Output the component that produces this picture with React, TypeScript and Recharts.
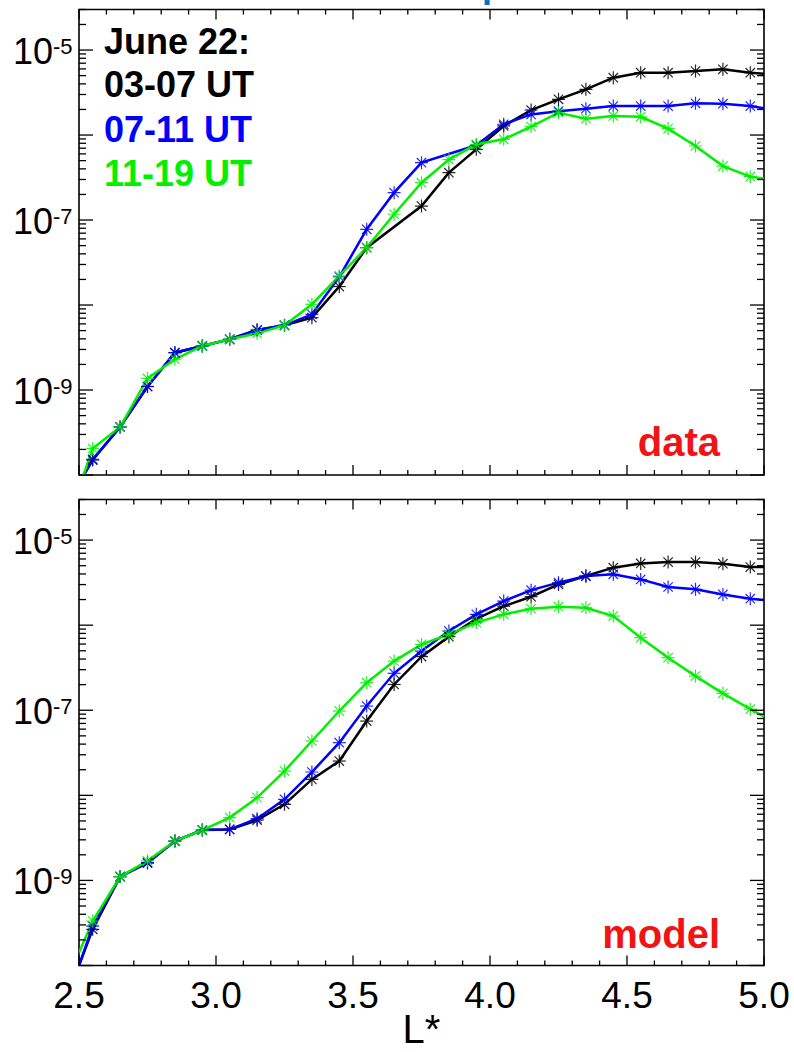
import React from "react";
import { LineChart, Line, XAxis, YAxis, ReferenceArea } from "recharts";

// L* bin centres (plus the two plot edges, where the lines run into the frame)
const L_STAR = [2.5, 2.55, 2.65, 2.75, 2.85, 2.95, 3.05, 3.15, 3.25, 3.35, 3.45, 3.55, 3.65, 3.75, 3.85, 3.95, 4.05, 4.15, 4.25, 4.35, 4.45, 4.55, 4.65, 4.75, 4.85, 4.95, 5.0];

// top panel: data
const dataUT0307 = [8e-11, 1.5e-10, 3.67e-10, 1.1e-9, 2.75e-9, 3.3e-9, 3.95e-9, 5.08e-9, 5.77e-9, 7.1e-9, 1.65e-8, 4.73e-8, null, 1.46e-7, 3.61e-7, 6.79e-7, 1.28e-6, 1.97e-6, 2.63e-6, 3.45e-6, 4.73e-6, 5.42e-6, 5.42e-6, 5.67e-6, 5.93e-6, 5.42e-6, 5.27e-6];
const dataUT0711 = [8e-11, 1.53e-10, 3.67e-10, 1.1e-9, 2.75e-9, 3.3e-9, 3.95e-9, 5.08e-9, 5.77e-9, 7.78e-9, 2.15e-8, 7.78e-8, 2.1e-7, 4.73e-7, null, 7.57e-7, 1.34e-6, 1.75e-6, 1.91e-6, 2.04e-6, 2.19e-6, 2.19e-6, 2.19e-6, 2.36e-6, 2.34e-6, 2.19e-6, 2.06e-6];
const dataUT1119 = [7e-11, 2.05e-10, 3.67e-10, 1.37e-9, 2.3e-9, 3.3e-9, 3.95e-9, 4.64e-9, 5.77e-9, 1.02e-8, 2.2e-8, 4.73e-8, 1.17e-7, 2.75e-7, 5.14e-7, 7.78e-7, 8.9e-7, 1.26e-6, 1.83e-6, 1.56e-6, 1.68e-6, 1.64e-6, 1.19e-6, 7.43e-7, 4.31e-7, 3.24e-7, 3.07e-7];

// bottom panel: model
const modelUT0307 = [1.0e-10, 2.66e-10, 1.11e-9, 1.6e-9, 2.9e-9, 3.91e-9, 3.98e-9, 5.1e-9, 7.84e-9, 1.54e-8, 2.53e-8, 7.46e-8, 2.01e-7, 4.27e-7, 7.33e-7, 1.19e-6, 1.67e-6, 2.16e-6, 3.01e-6, 3.78e-6, 4.74e-6, 5.32e-6, 5.51e-6, 5.51e-6, 5.28e-6, 4.82e-6, 4.82e-6];
const modelUT0711 = [1.0e-10, 2.91e-10, 1.11e-9, 1.62e-9, 2.9e-9, 3.91e-9, 3.98e-9, 5.32e-9, 8.97e-9, 1.88e-8, 4.16e-8, 1.12e-7, 2.72e-7, 4.96e-7, 8.53e-7, 1.34e-6, 1.92e-6, 2.58e-6, 3.16e-6, 3.78e-6, 3.96e-6, 3.45e-6, 2.81e-6, 2.64e-6, 2.3e-6, 2.05e-6, 1.97e-6];
const modelUT1119 = [1.42e-10, 3.33e-10, 1.11e-9, 1.7e-9, 2.9e-9, 3.91e-9, 5.47e-9, 9.4e-9, 1.93e-8, 4.35e-8, 9.8e-8, 2.11e-7, 3.78e-7, 5.94e-7, 7.8e-7, 1.07e-6, 1.34e-6, 1.56e-6, 1.65e-6, 1.6e-6, 1.28e-6, 7.13e-7, 4.15e-7, 2.52e-7, 1.58e-7, 1.03e-7, 8.4e-8];

const SERIES = [
  { key: "ut0307", label: "03-07 UT", color: "#000000" },
  { key: "ut0711", label: "07-11 UT", color: "#0000ff" },
  { key: "ut1119", label: "11-19 UT", color: "#00f000" },
];

const X_TICKS = [2.5, 2.6, 2.7, 2.8, 2.9, 3.0, 3.1, 3.2, 3.3, 3.4, 3.5, 3.6, 3.7, 3.8, 3.9, 4.0, 4.1, 4.2, 4.3, 4.4, 4.5, 4.6, 4.7, 4.8, 4.9, 5.0];
const Y_LABELLED = [-9, -7, -5];
const Y_MIN = 1e-10;
const Y_MAX = 3e-5;

const Y_TICKS: number[] = [];
for (let e = -10; e <= -5; e++) {
  for (let k = 1; k <= 9; k++) {
    const v = k * Math.pow(10, e);
    if (v <= Y_MAX * 1.0001) Y_TICKS.push(v);
  }
}

const FONT = "'Liberation Sans', Arial, Helvetica, sans-serif";
const PL = 79;
const PR = 764;

const buildRows = (a: any[], b: any[], c: any[]) =>
  L_STAR.map((L, i) => ({ L, ut0307: a[i], ut0711: b[i], ut1119: c[i] }));

const topRows = buildRows(dataUT0307, dataUT0711, dataUT1119);
const bottomRows = buildRows(modelUT0307, modelUT0711, modelUT1119);

// asterisk marker, skipped at the two edge points
const makeStar = (color: string, dataKey: string) => (props: any) => {
  const { cx, cy, index, payload } = props;
  const last = L_STAR.length - 1;
  if (index === 0 || index === last || cx == null || cy == null || payload?.[dataKey] == null) {
    return <g key={`n-${dataKey}-${index}`} />;
  }
  const r = 6.5;
  const d = r * 0.72;
  return (
    <g key={`s-${dataKey}-${index}`} stroke={color} strokeWidth={1.2} strokeOpacity={0.85}>
      <line x1={cx} y1={cy - r} x2={cx} y2={cy + r} />
      <line x1={cx - d} y1={cy - d} x2={cx + d} y2={cy + d} />
      <line x1={cx - d} y1={cy + d} x2={cx + d} y2={cy - d} />
      <line x1={cx - r} y1={cy} x2={cx + r} y2={cy} />
    </g>
  );
};

const makeYTick = () => (props: any) => {
  const { y, payload } = props;
  const e = Math.log10(payload.value);
  const exp = Math.round(e);
  const major = Math.abs(e - exp) < 1e-6;
  const len = major ? 14 : 7;
  return (
    <g>
      <line x1={PL} x2={PL + len} y1={y} y2={y} stroke="#000" strokeWidth={1.3} />
      <line x1={PR - len} x2={PR} y1={y} y2={y} stroke="#000" strokeWidth={1.3} />
      {major && Y_LABELLED.includes(exp) && (
        <text x={13} y={y + 13.5} fontFamily={FONT} fill="#000">
          <tspan fontSize={36}>10</tspan>
          <tspan fontSize={22} dy={-10}>{String(exp)}</tspan>
        </text>
      )}
    </g>
  );
};

const makeXTick = (plotTop: number, plotBottom: number, showLabels: boolean) => (props: any) => {
  const { x, payload } = props;
  const v = payload.value;
  const major = Math.abs(v * 2 - Math.round(v * 2)) < 1e-6;
  const len = major ? 10 : 5;
  return (
    <g>
      <line x1={x} x2={x} y1={plotBottom} y2={plotBottom - len} stroke="#000" strokeWidth={1.3} />
      <line x1={x} x2={x} y1={plotTop} y2={plotTop + len} stroke="#000" strokeWidth={1.3} />
      {showLabels && major && (
        <text x={x} y={plotBottom + 42.5} textAnchor="middle" fontFamily={FONT} fontSize={37} fill="#000">
          {v.toFixed(1)}
        </text>
      )}
    </g>
  );
};

interface PanelProps {
  rows: any[];
  top: number;
  height: number;
  marginTop: number;
  xAxisHeight: number;
  showLabels: boolean;
}

function Panel({ rows, top, height, marginTop, xAxisHeight, showLabels }: PanelProps) {
  const plotTop = marginTop;
  const plotBottom = height - xAxisHeight;
  return (
    <div style={{ position: "absolute", left: 0, top }}>
      <LineChart
        width={794}
        height={height}
        data={rows}
        margin={{ top: marginTop, right: 794 - PR, bottom: 0, left: 0 }}
      >
        <XAxis
          type="number"
          dataKey="L"
          domain={[2.5, 5.0]}
          ticks={X_TICKS}
          interval={0}
          allowDataOverflow
          height={xAxisHeight}
          axisLine={false}
          tickLine={false}
          tick={makeXTick(plotTop, plotBottom, showLabels)}
        />
        <YAxis
          type="number"
          scale="log"
          domain={[Y_MIN, Y_MAX]}
          ticks={Y_TICKS}
          interval={0}
          allowDataOverflow
          width={PL}
          axisLine={false}
          tickLine={false}
          tick={makeYTick()}
        />
        <ReferenceArea x1={2.5} x2={5.0} y1={Y_MIN} y2={Y_MAX} fill="none" stroke="#000" strokeWidth={1.6} />
        {SERIES.map((s) => (
          <Line
            key={s.key}
            type="linear"
            dataKey={s.key}
            stroke={s.color}
            strokeWidth={2.5}
            connectNulls
            dot={makeStar(s.color, s.key)}
            activeDot={false}
            isAnimationActive={false}
          />
        ))}
      </LineChart>
    </div>
  );
}

export default function App() {
  return (
    <div style={{ position: "absolute", left: 0, top: 0, width: 794, height: 1052, background: "#fff", overflow: "hidden" }}>
      <Panel rows={topRows} top={0} height={500} marginTop={9.5} xAxisHeight={25} showLabels={false} />
      <Panel rows={bottomRows} top={490} height={562} marginTop={9.5} xAxisHeight={86.5} showLabels={true} />
      <svg width={794} height={1052} style={{ position: "absolute", left: 0, top: 0, pointerEvents: "none" }}>
        <text x={482} y={-3.5} fontFamily={FONT} fontWeight="bold" fontSize={36} fill="#0070c0">p</text>
        <text x={104} y={54} fontFamily={FONT} fontWeight="bold" fontSize={36} fill="#000">June 22:</text>
        {SERIES.map((s, i) => (
          <text key={s.key} x={104} y={97 + i * 44.7} fontFamily={FONT} fontWeight="bold" fontSize={36} fill={s.color}>
            {s.label}
          </text>
        ))}
        <text x={720} y={456} textAnchor="end" fontFamily={FONT} fontWeight="bold" fontSize={40} fill="#f01414">data</text>
        <text x={720} y={948} textAnchor="end" fontFamily={FONT} fontWeight="bold" fontSize={40} fill="#f01414">model</text>
        <text x={421.5} y={1043} textAnchor="middle" fontFamily={FONT} fontSize={40} fill="#000">L*</text>
      </svg>
    </div>
  );
}
